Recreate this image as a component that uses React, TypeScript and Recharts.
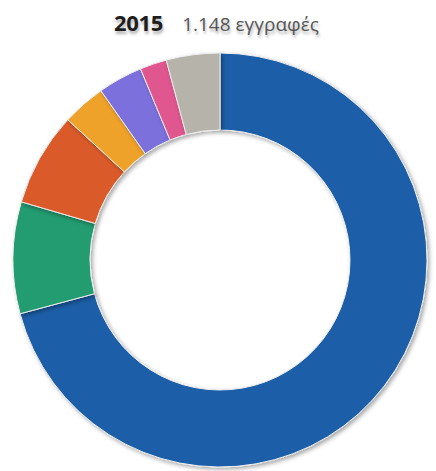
import React from 'react';
import { PieChart, Pie, Cell } from 'recharts';

const categories = ['A', 'B', 'C', 'D', 'E', 'F', 'G'];
const values = [813, 100, 84, 39, 40, 24, 48];
const colors = ['#1a5ea8', '#209c70', '#db5a2c', '#efa22b', '#7b6fdc', '#e0578f', '#b6b3ab'];
const titleYear = '2015';
const titleCount = '1.148 εγγραφές';

const data = categories.map((c, i) => ({ name: c, value: values[i] }));

export default function App() {
  return (
    <div style={{ position: 'absolute', left: 0, top: 0, width: 436, height: 471, background: '#fff', fontFamily: '"Open Sans", sans-serif' }}>
      <div style={{ position: 'absolute', left: 114, top: 7, display: 'flex', alignItems: 'baseline', whiteSpace: 'nowrap', textShadow: '1px 3px 3px rgba(0,0,0,0.3)' }}>
        <span style={{ fontSize: 22, fontWeight: 700, color: '#1e1e1e', letterSpacing: -0.3 }}>{titleYear}</span>
        <span style={{ fontSize: 19, color: '#555', marginLeft: 19 }}>{titleCount}</span>
      </div>
      <PieChart width={436} height={471} margin={{ top: 0, right: 0, bottom: 0, left: 0 }}>
        <defs>
          <filter id="shadow" x="-10%" y="-10%" width="120%" height="120%">
            <feDropShadow dx="2" dy="2" stdDeviation="2" floodColor="#000" floodOpacity="0.35" />
          </filter>
        </defs>
        <Pie
          data={data}
          dataKey="value"
          nameKey="name"
          cx={220}
          cy={260}
          innerRadius={130}
          outerRadius={207}
          startAngle={90}
          endAngle={-270}
          stroke="#eeeeee"
          strokeWidth={1}
          isAnimationActive={false}
          style={{ filter: 'url(#shadow)' }}
        >
          {data.map((d, i) => (
            <Cell key={d.name} fill={colors[i]} />
          ))}
        </Pie>
      </PieChart>
    </div>
  );
}
